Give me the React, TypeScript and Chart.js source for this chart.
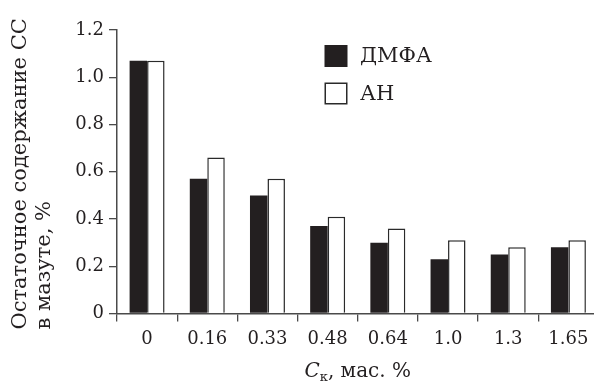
import { useEffect, useRef } from 'react';
import { Chart, registerables } from 'chart.js';

Chart.register(...registerables);

const categories = ['0', '0.16', '0.33', '0.48', '0.64', '1.0', '1.3', '1.65'];
const seriesLabels = ['ДМФА', 'АН'];
const dmfaValues = [1.07, 0.57, 0.5, 0.37, 0.3, 0.23, 0.25, 0.28];
const anValues = [1.07, 0.66, 0.57, 0.41, 0.36, 0.31, 0.28, 0.31];
const yTitleLines = ['Остаточное содержание СС', 'в мазуте, %'];
const xTitleMain = 'C';
const xTitleSub = 'к';
const xTitleRest = ', мас. %';

const FONT = '"DejaVu Serif", serif';
const INK = '#231f20';
const AXIS = '#4a4a4a';

const overlayPlugin = {
  id: 'overlay',
  afterDraw(chart: any) {
    const { ctx, chartArea } = chart;
    ctx.save();
    ctx.fillStyle = INK;

    // legend
    const ds = chart.data.datasets;
    const boxX = 324.5;
    const boxW = 23;
    const boxH = 22;
    const rows = [45, 82.5];
    ds.forEach((d: any, i: number) => {
      const y = rows[i];
      ctx.fillStyle = d.backgroundColor;
      ctx.fillRect(boxX, y, boxW, boxH);
      if (d.borderWidth) {
        ctx.strokeStyle = d.borderColor;
        ctx.lineWidth = 1.5;
        ctx.strokeRect(boxX + 0.75, y + 0.75, boxW - 1.5, boxH - 1.5);
      }
      ctx.fillStyle = INK;
      ctx.font = `21px ${FONT}`;
      ctx.textAlign = 'left';
      ctx.textBaseline = 'middle';
      ctx.fillText(d.label, 360, y + boxH / 2 + 1);
    });

    // y title
    ctx.font = `21px ${FONT}`;
    ctx.textAlign = 'left';
    ctx.textBaseline = 'alphabetic';
    const baseXs = [26, 50];
    yTitleLines.forEach((line, i) => {
      ctx.save();
      ctx.translate(baseXs[i], 329.5);
      ctx.rotate(-Math.PI / 2);
      ctx.fillText(line, 0, 0);
      ctx.restore();
    });

    // x title with subscript
    const mainFont = `italic 20px ${FONT}`;
    const subFont = `13px ${FONT}`;
    const restFont = `20px ${FONT}`;
    ctx.font = mainFont;
    const w1 = ctx.measureText(xTitleMain).width;
    ctx.font = subFont;
    const w2 = ctx.measureText(xTitleSub).width;
    ctx.font = restFont;
    const w3 = ctx.measureText(xTitleRest).width;
    const total = w1 + w2 + w3;
    const cx = (chartArea.left + chartArea.right) / 2;
    let x = cx - total / 2;
    const base = 376.5;
    ctx.textAlign = 'left';
    ctx.font = mainFont;
    ctx.fillText(xTitleMain, x, base);
    x += w1;
    ctx.font = subFont;
    ctx.fillText(xTitleSub, x, base + 4);
    x += w2;
    ctx.font = restFont;
    ctx.fillText(xTitleRest, x, base);
    ctx.restore();
  },
};

export default function App() {
  const ref = useRef<HTMLCanvasElement | null>(null);

  useEffect(() => {
    if (!ref.current) return;
    const chart = new Chart(ref.current, {
      type: 'bar',
      data: {
        labels: categories,
        datasets: [
          {
            label: seriesLabels[0],
            data: dmfaValues,
            backgroundColor: INK,
            borderColor: INK,
            borderWidth: 0,
            categoryPercentage: 0.581,
            barPercentage: 1,
          },
          {
            label: seriesLabels[1],
            data: anValues,
            backgroundColor: '#ffffff',
            borderColor: '#2a2a2a',
            borderWidth: 1.5,
            categoryPercentage: 0.581,
            barPercentage: 1,
          },
        ],
      },
      options: {
        animation: false,
        responsive: false,
        layout: { padding: { top: 30, right: 11.5, left: 0, bottom: 0 } },
        plugins: {
          legend: { display: false },
          tooltip: { enabled: false },
        },
        scales: {
          x: {
            type: 'category',
            offset: true,
            grid: {
              offset: true,
              drawOnChartArea: false,
              drawTicks: true,
              tickLength: 8,
              color: AXIS,
              lineWidth: 1.3,
            },
            border: { display: true, color: AXIS, width: 1.5 },
            ticks: {
              color: INK,
              font: { family: FONT, size: 18 },
              padding: 7,
              maxRotation: 0,
              autoSkip: false,
            },
            afterFit(scale: any) {
              scale.height = 68.5;
            },
          },
          y: {
            min: 0,
            max: 1.2,
            grid: {
              drawOnChartArea: false,
              drawTicks: true,
              tickLength: 8,
              color: AXIS,
              lineWidth: 1.3,
            },
            border: { display: true, color: AXIS, width: 1.5 },
            ticks: {
              stepSize: 0.2,
              color: INK,
              font: { family: FONT, size: 18 },
              padding: 5,
              callback: (v: any) => (Number(v) === 0 ? '0' : Number(v).toFixed(1)),
            },
            afterFit(scale: any) {
              scale.width = 117;
            },
          },
        },
      },
      plugins: [overlayPlugin],
    });
    return () => chart.destroy();
  }, []);

  return (
    <div
      style={{
        position: 'absolute',
        left: 0,
        top: 0,
        width: 594,
        height: 382,
        overflow: 'hidden',
        background: '#fff',
      }}
    >
      <canvas ref={ref} width={610} height={382} style={{ display: 'block' }} />
    </div>
  );
}
